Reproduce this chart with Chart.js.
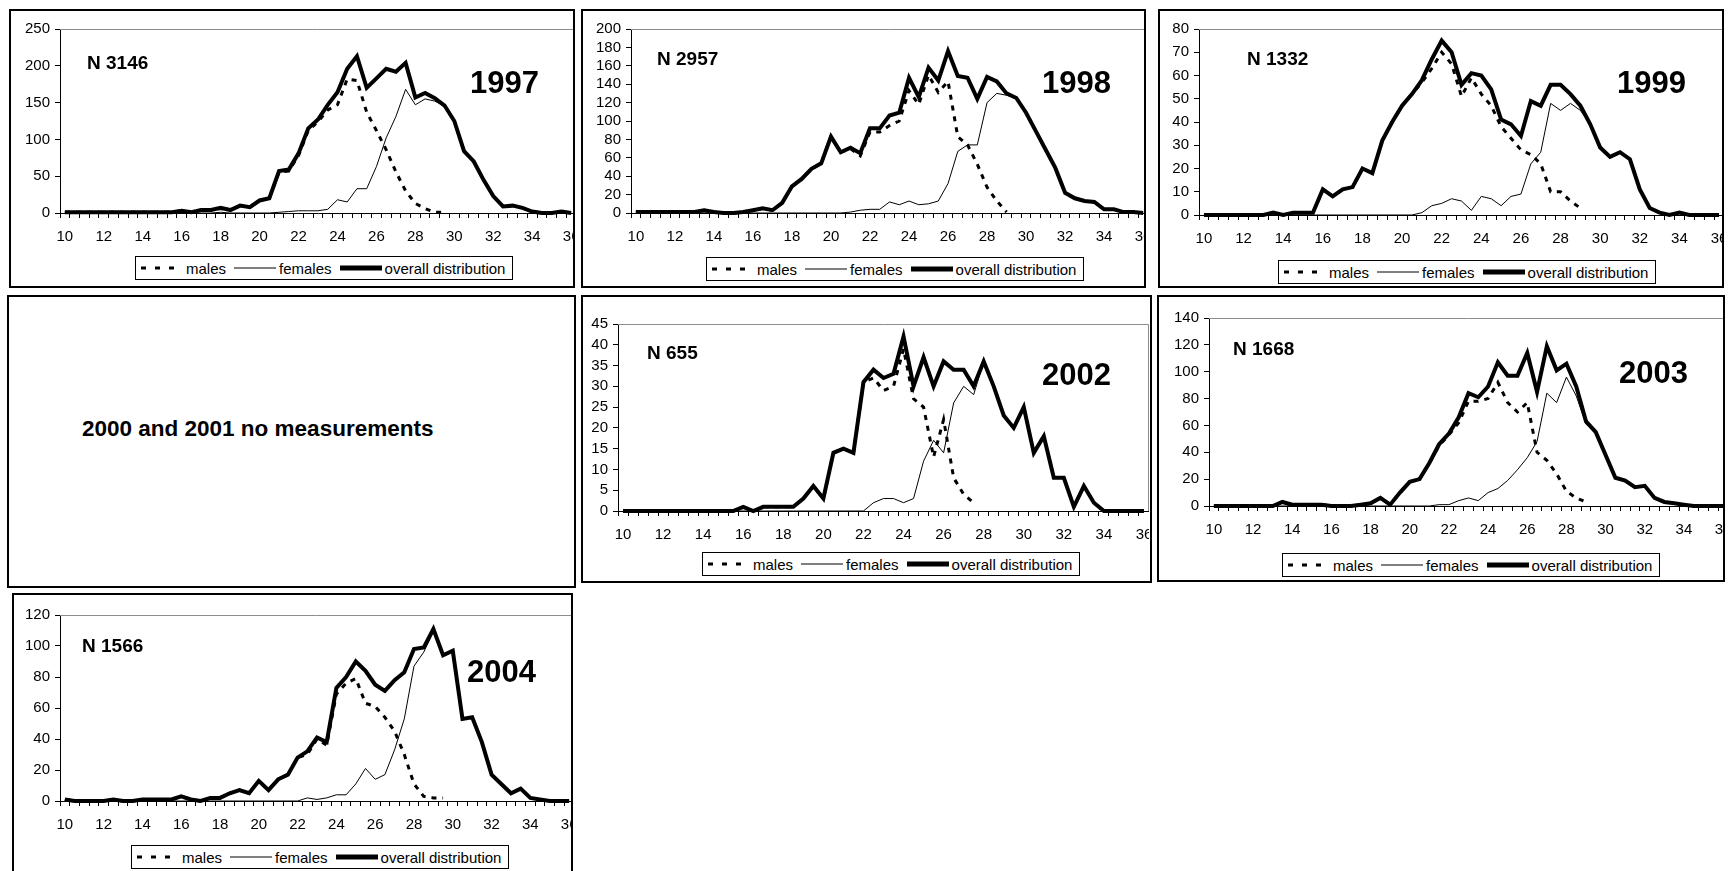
<!DOCTYPE html>
<html lang="en">
<head>
<meta charset="UTF-8">
<title>Length distributions 1997-2004</title>
<script src="https://cdn.jsdelivr.net/npm/chart.js"></script>
<style>
    body {
        margin: 0;
        width: 1734px;
        height: 871px;
        position: relative;
        overflow: hidden;
        background: #fff;
        font-family: "Liberation Sans", Arial, sans-serif;
        color: #000;
    }
    .panel {
        position: absolute;
        box-sizing: border-box;
        border: 2px solid #000;
        background: #fff;
        overflow: hidden;
    }
    .panel canvas { position: absolute; left: 0; top: 0; }
    .nlabel { position: absolute; font-weight: bold; font-size: 19px; line-height: 1; white-space: nowrap; }
    .year { position: absolute; font-weight: bold; font-size: 31px; line-height: 1; white-space: nowrap; }
    .note { position: absolute; font-weight: bold; font-size: 22.5px; line-height: 1; white-space: nowrap; }
    .legend {
        position: absolute;
        box-sizing: border-box;
        height: 24px;
        border: 1px solid #000;
        display: flex;
        align-items: center;
        padding: 0 7px 0 5px;
        font-size: 15px;
        white-space: nowrap;
        background: #fff;
    }
    .legend .item { display: flex; align-items: center; margin-right: 8px; }
    .legend .item:last-child { margin-right: 0; }
    .legend .item span { margin-left: 3px; }
    .legend svg { display: block; }
</style>
</head>
<body>

<div class="panel" style="left:9px;top:9px;width:566px;height:279px">
    <canvas id="c1997"></canvas>
    <div class="nlabel" style="left:76px;top:42px">N 3146</div>
    <div class="year" style="left:459px;top:56px">1997</div>
    <div class="legend" style="left:124px;top:245px"></div>
</div>

<div class="panel" style="left:581px;top:9px;width:565px;height:279px">
    <canvas id="c1998"></canvas>
    <div class="nlabel" style="left:74px;top:38px">N 2957</div>
    <div class="year" style="left:459px;top:56px">1998</div>
    <div class="legend" style="left:123px;top:246px"></div>
</div>

<div class="panel" style="left:1158px;top:9px;width:566px;height:279px">
    <canvas id="c1999"></canvas>
    <div class="nlabel" style="left:87px;top:38px">N 1332</div>
    <div class="year" style="left:457px;top:56px">1999</div>
    <div class="legend" style="left:118px;top:249px"></div>
</div>

<div class="panel" style="left:7px;top:295px;width:569px;height:293px">
    <div class="note" style="left:73px;top:121px">2000 and 2001 no measurements</div>
</div>

<div class="panel" style="left:581px;top:295px;width:571px;height:288px">
    <canvas id="c2002"></canvas>
    <div class="nlabel" style="left:64px;top:46px">N 655</div>
    <div class="year" style="left:459px;top:62px">2002</div>
    <div class="legend" style="left:119px;top:255px"></div>
</div>

<div class="panel" style="left:1157px;top:295px;width:568px;height:287px">
    <canvas id="c2003"></canvas>
    <div class="nlabel" style="left:74px;top:42px">N 1668</div>
    <div class="year" style="left:460px;top:60px">2003</div>
    <div class="legend" style="left:123px;top:256px"></div>
</div>

<div class="panel" style="left:12px;top:593px;width:561px;height:300px">
    <canvas id="c2004"></canvas>
    <div class="nlabel" style="left:68px;top:41px">N 1566</div>
    <div class="year" style="left:453px;top:61px">2004</div>
    <div class="legend" style="left:117px;top:250px"></div>
</div>

<script>
// length classes (cm), one point every 0.5
const categories = ['10','10.5','11','11.5','12','12.5','13','13.5','14','14.5','15','15.5',
    '16','16.5','17','17.5','18','18.5','19','19.5','20','20.5','21','21.5','22','22.5','23','23.5',
    '24','24.5','25','25.5','26','26.5','27','27.5','28','28.5','29','29.5','30','30.5','31','31.5',
    '32','32.5','33','33.5','34','34.5','35','35.5','36'];
const tickLabels = ['10','12','14','16','18','20','22','24','26','28','30','32','34','36'];

// 1997
const overall1997 = [1,1,1,1,1,1,1,1,1,1,1,1, 3,1,4,4,7,4,10,8, 17,20,57,59,81,115,127,147,
    164,196,213,170,183,196,192,204, 157,163,156,146,125,84,70,45, 23,9,10,7,2,0,0,2, 0];
const males1997 = [1,1,1,1,1,1,1,1,1,1,1,1, 3,1,4,4,6,4,10,8, 17,20,56,57,78,112,124,140,
    147,182,180,137,112,86,56,30, 13,6,1,1,null,null,null,null,
    null,null,null,null,null,null,null,null, null];
const females1997 = [0,0,0,0,0,0,0,0,0,0,0,0, 0,0,0,0,1,0,0,0, 0,0,1,2,3,3,3,5,
    18,15,33,33,63,102,131,168, 147,155,152,145,125,84,70,45, 23,9,10,7,2,0,0,2, 0];

// 1998
const overall1998 = [1,1,1,1,1,1,1,3,1,0,0,1, 3,5,3,11,29,37,48,54, 83,66,71,65,92,92,106,109,
    147,126,158,144,176,149,147,124, 148,143,130,125,109,89,69,49, 22,16,13,12,4,4,1,1, 0];
const males1998 = [1,1,1,1,1,1,1,3,1,0,0,1, 3,5,3,11,29,37,48,54, 83,66,70,62,88,88,95,100,
    133,118,150,131,143,83,74,53, 28,13,1,null,null,null,null,null,
    null,null,null,null,null,null,null,null, null];
const females1998 = [0,0,0,0,0,0,0,0,0,0,0,0, 0,0,0,0,0,0,0,0, 0,0,1,3,4,4,12,9,
    13,9,10,13,32,67,74,74, 120,130,128,125,109,89,69,49, 22,16,13,12,4,4,1,1, 0];

// 1999
const overall1999 = [0,0,0,0,0,0,0,1,0,1,1,1, 11,8,11,12,20,18,32,40, 47,52,58,67,75,70,56,61,
    60,54,41,39,34,49,47,56, 56,52,47,39,29,25,27,24, 11,3,1,0,1,0,0,0, 0];
const males1999 = [0,0,0,0,0,0,0,1,0,1,1,1, 11,8,11,12,20,18,32,40, 47,52,57,63,70,65,51,59,
    52,47,38,33,28,26,22,10, 10,6,3,null,null,null,null,null,
    null,null,null,null,null,null,null,null, null];
const females1999 = [0,0,0,0,0,0,0,0,0,0,0,0, 0,0,0,0,0,0,0,0, 0,0,1,4,5,7,6,2,
    8,7,4,8,9,22,27,48, 45,48,45,39,29,25,27,24, 11,3,1,0,1,0,0,0, 0];

// 2002
const overall2002 = [0,0,0,0,0,0,0,0,0,0,0,0, 1,0,1,1,1,1,3,6, 3,14,15,14,31,34,32,33,
    42,30,37,30,36,34,34,30, 36,30,23,20,25,14,18,8, 8,1,6,2,0,0,0,0, 0];
const males2002 = [0,0,0,0,0,0,0,0,0,0,0,0, 1,0,1,1,1,1,3,6, 3,14,15,14,31,32,29,30,
    39,27,25,13,22,8,4,2, null,null,null,null,null,null,null,null,
    null,null,null,null,null,null,null,null, null];
const females2002 = [0,0,0,0,0,0,0,0,0,0,0,0, 0,0,0,0,0,0,0,0, 0,0,0,0,0,2,3,3,
    2,3,12,17,14,26,30,28, 36,30,23,20,25,14,18,8, 8,1,6,2,0,0,0,0, 0];

// 2003
const overall2003 = [0,0,0,0,0,0,0,3,1,1,1,1, 0,0,0,1,2,6,1,10, 18,20,32,46,54,66,84,81,
    89,107,97,97,114,85,119,101, 106,89,63,55,38,21,19,14, 15,6,3,2,1,0,0,0, 0];
const males2003 = [0,0,0,0,0,0,0,3,1,1,1,1, 0,0,0,1,2,6,1,10, 18,20,32,45,53,62,78,78,
    80,92,77,70,77,40,34,24, 11,6,3,null,null,null,null,null,
    null,null,null,null,null,null,null,null, null];
const females2003 = [0,0,0,0,0,0,0,0,0,0,0,0, 0,0,0,0,0,0,0,0, 0,0,0,1,1,4,6,4,
    10,13,19,27,36,48,84,77, 96,82,61,55,38,21,19,14, 15,6,3,2,1,0,0,0, 0];

// 2004
const overall2004 = [1,0,0,0,0,1,0,0,1,1,1,1, 3,1,0,2,2,5,7,5, 13,7,14,17,28,32,41,38,
    73,80,90,84,75,71,78,83, 98,99,111,94,97,53,54,38, 17,11,5,8,2,1,0,0, 0];
const males2004 = [1,0,0,0,0,1,0,0,1,1,1,1, 3,1,0,2,2,5,7,5, 13,7,14,17,28,30,40,36,
    69,76,79,63,61,54,45,30, 11,3,2,2,null,null,null,null,
    null,null,null,null,null,null,null,null, null];
const females2004 = [0,0,0,0,0,0,0,0,0,0,0,0, 0,0,0,0,0,0,0,0, 0,0,0,0,0,2,1,2,
    4,4,11,21,14,17,33,53, 87,96,109,94,97,53,54,38, 17,11,5,8,2,1,0,0, 0];

Chart.defaults.font.family = "'Liberation Sans', Arial, sans-serif";
Chart.defaults.font.size = 15;
Chart.defaults.color = '#000';

// grey top and right edge of the plot area, like the Excel plot frame
const plotFrame = {
    id: 'plotFrame',
    beforeDatasetsDraw(chart) {
        const a = chart.chartArea;
        const ctx = chart.ctx;
        ctx.save();
        ctx.strokeStyle = '#8c8c8c';
        ctx.lineWidth = 1;
        ctx.beginPath();
        ctx.moveTo(a.left, a.top + 0.5);
        ctx.lineTo(a.right - 0.5, a.top + 0.5);
        ctx.lineTo(a.right - 0.5, a.bottom);
        ctx.stroke();
        ctx.restore();
    }
};

function drawChart(id, males, females, overall, yMax, yStep, box) {
    const canvas = document.getElementById(id);
    canvas.width = box.right;
    canvas.height = box.bottom + 36;

    new Chart(canvas, {
        type: 'line',
        data: {
            labels: categories,
            datasets: [
                { label: 'males', data: males, borderColor: '#000', borderWidth: 3,
                  borderDash: [5, 6], order: 1, clip: false },
                { label: 'females', data: females, borderColor: '#000', borderWidth: 1,
                  order: 2, clip: false },
                { label: 'overall distribution', data: overall, borderColor: '#000', borderWidth: 4,
                  order: 0, clip: false }
            ]
        },
        options: {
            responsive: false,
            animation: false,
            layout: { padding: { top: box.top, left: 0, right: 0, bottom: 0 } },
            elements: { point: { radius: 0 }, line: { tension: 0, fill: false } },
            plugins: { legend: { display: false }, tooltip: { enabled: false } },
            scales: {
                x: {
                    offset: true,
                    grid: { offset: true, drawOnChartArea: false, drawTicks: true, tickLength: 5, color: '#000' },
                    border: { display: true, color: '#000', width: 1 },
                    ticks: {
                        autoSkip: false, maxRotation: 0, minRotation: 0, padding: 10,
                        callback: (v, i) => tickLabels.includes(categories[i]) ? categories[i] : ''
                    },
                    afterFit(s) { s.height = 36; s.paddingLeft = 0; s.paddingRight = 0; }
                },
                y: {
                    min: 0,
                    max: yMax,
                    grid: { drawOnChartArea: false, drawTicks: true, tickLength: 5, color: '#000' },
                    border: { display: true, color: '#000', width: 1 },
                    ticks: { stepSize: yStep, padding: 5, autoSkip: false },
                    afterFit(s) { s.width = box.left; s.paddingTop = 0; s.paddingBottom = 0; }
                }
            }
        },
        plugins: [plotFrame]
    });
}

function legendHtml() {
    const sample = (w, dash) =>
        '<svg width="42" height="8"><line x1="0" y1="4" x2="42" y2="4" stroke="#000" stroke-width="' + w + '"' +
        (dash ? ' stroke-dasharray="' + dash + '"' : '') + '/></svg>';
    return '<div class="item">' + sample(3, '5 9') + '<span>males</span></div>' +
        '<div class="item">' + sample(1) + '<span>females</span></div>' +
        '<div class="item">' + sample(5) + '<span>overall distribution</span></div>';
}
document.querySelectorAll('.legend').forEach(el => { el.innerHTML = legendHtml(); });

// box: plot left / top / bottom / right inside each panel
drawChart('c1997', males1997, females1997, overall1997, 250, 50, { left: 49, top: 18, bottom: 202, right: 565 });
drawChart('c1998', males1998, females1998, overall1998, 200, 20, { left: 48, top: 18, bottom: 202, right: 565 });
drawChart('c1999', males1999, females1999, overall1999, 80, 10, { left: 39, top: 18, bottom: 204, right: 564 });
drawChart('c2002', males2002, females2002, overall2002, 45, 5, { left: 35, top: 27, bottom: 214, right: 566 });
drawChart('c2003', males2003, females2003, overall2003, 140, 20, { left: 50, top: 21, bottom: 209, right: 569 });
drawChart('c2004', males2004, females2004, overall2004, 120, 20, { left: 46, top: 20, bottom: 206, right: 560 });
</script>
</body>
</html>
